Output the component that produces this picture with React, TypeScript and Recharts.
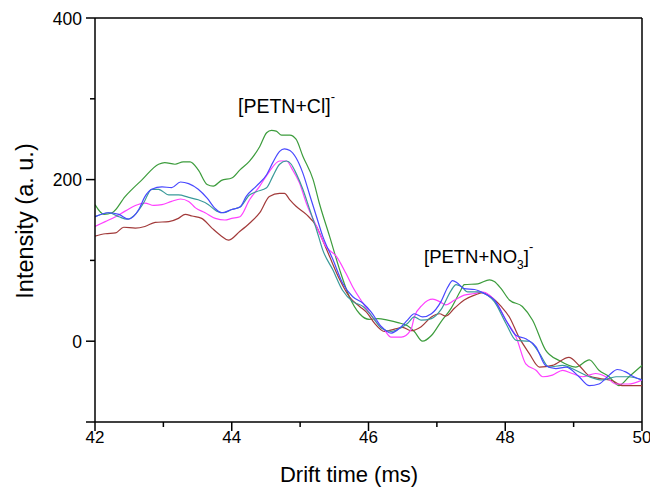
import { LineChart, Line, XAxis, YAxis, ReferenceLine } from 'recharts';

// drift time (ms) / intensity (a. u.), one pair of arrays per trace
const greenT = [42.0, 42.13, 42.25, 42.44, 42.69, 42.93, 43.02, 43.17, 43.29, 43.39, 43.51, 43.64, 43.73, 43.85, 44.0, 44.12, 44.26, 44.41, 44.51, 44.58, 44.65, 44.73, 44.85, 44.94, 45.04, 45.19, 45.28, 45.43, 45.58, 45.72, 45.87, 46.01, 46.14, 46.28, 46.43, 46.57, 46.67, 46.79, 46.92, 47.06, 47.21, 47.35, 47.4, 47.6, 47.77, 47.84, 47.94, 48.06, 48.25, 48.4, 48.59, 48.79, 49.03, 49.23, 49.37, 49.52, 49.66, 49.81, 50.0];
const greenV = [169, 157, 159, 179, 200, 219, 221, 219, 222, 222, 212, 194, 192, 199, 202, 212, 223, 241, 258, 261, 260, 255, 255, 250, 229, 200, 171, 130, 88, 55, 34, 27, 28, 26, 23, 19, 12, 0, 7, 24, 41, 63, 70, 71, 76, 74, 65, 51, 43, 26, -11, -24, -32, -23, -36, -44, -55, -44, -30];

const blueT = [42.0, 42.2, 42.35, 42.49, 42.64, 42.73, 42.83, 42.98, 43.12, 43.25, 43.37, 43.51, 43.64, 43.76, 43.85, 44.0, 44.12, 44.21, 44.36, 44.51, 44.6, 44.7, 44.77, 44.85, 44.94, 45.04, 45.14, 45.24, 45.33, 45.48, 45.62, 45.77, 45.92, 46.04, 46.19, 46.33, 46.48, 46.57, 46.67, 46.79, 46.92, 47.06, 47.16, 47.23, 47.3, 47.4, 47.55, 47.69, 47.84, 48.01, 48.16, 48.3, 48.45, 48.59, 48.74, 48.89, 49.08, 49.23, 49.37, 49.52, 49.64, 49.76, 49.88, 50.0];
const blueV = [154, 159, 157, 151, 163, 179, 188, 191, 190, 197, 195, 188, 177, 164, 159, 163, 166, 179, 192, 206, 221, 235, 238, 236, 227, 208, 181, 154, 130, 101, 72, 55, 47, 36, 18, 10, 18, 26, 34, 30, 34, 49, 67, 75, 72, 65, 64, 59, 51, 26, 7, 3, -7, -30, -34, -32, -44, -55, -53, -42, -35, -38, -44, -48];

const tealT = [42.0, 42.2, 42.35, 42.47, 42.59, 42.71, 42.83, 42.93, 43.08, 43.22, 43.37, 43.51, 43.66, 43.78, 43.88, 44.0, 44.12, 44.26, 44.36, 44.51, 44.6, 44.7, 44.8, 44.87, 44.94, 45.04, 45.14, 45.24, 45.33, 45.48, 45.62, 45.77, 45.92, 46.04, 46.19, 46.33, 46.48, 46.57, 46.67, 46.77, 46.92, 47.06, 47.21, 47.28, 47.35, 47.45, 47.6, 47.74, 47.84, 48.01, 48.16, 48.35, 48.5, 48.64, 48.84, 49.03, 49.23, 49.42, 49.62, 49.8, 50.0];
const tealV = [154, 159, 154, 151, 157, 171, 188, 188, 181, 181, 178, 175, 169, 161, 159, 163, 166, 181, 185, 190, 204, 219, 223, 219, 208, 188, 163, 138, 113, 88, 63, 49, 43, 32, 16, 12, 17, 22, 30, 26, 28, 39, 63, 70, 68, 61, 61, 57, 49, 22, 1, 0, -15, -32, -30, -36, -44, -48, -44, -44, -48];

const magentaT = [42.0, 42.15, 42.3, 42.44, 42.59, 42.73, 42.86, 42.98, 43.12, 43.25, 43.37, 43.47, 43.61, 43.76, 43.9, 44.0, 44.12, 44.26, 44.41, 44.55, 44.7, 44.8, 44.89, 44.99, 45.09, 45.24, 45.38, 45.53, 45.67, 45.77, 45.92, 46.09, 46.23, 46.33, 46.48, 46.62, 46.67, 46.79, 46.94, 47.04, 47.13, 47.26, 47.4, 47.55, 47.65, 47.77, 47.89, 48.01, 48.16, 48.3, 48.45, 48.55, 48.69, 48.84, 48.98, 49.13, 49.32, 49.47, 49.62, 49.8, 50.0];
const magentaV = [142, 148, 154, 161, 168, 171, 168, 169, 173, 176, 173, 165, 159, 152, 150, 152, 154, 175, 192, 210, 223, 223, 212, 196, 171, 142, 117, 105, 84, 67, 47, 26, 14, 5, 5, 14, 30, 45, 52, 49, 45, 51, 57, 59, 61, 57, 45, 26, 5, -28, -36, -44, -42, -36, -40, -44, -40, -44, -53, -53, -48];

const brownT = [42.0, 42.15, 42.3, 42.42, 42.59, 42.73, 42.88, 43.08, 43.22, 43.32, 43.42, 43.56, 43.71, 43.85, 43.95, 44.12, 44.26, 44.41, 44.55, 44.7, 44.77, 44.85, 44.94, 45.09, 45.24, 45.33, 45.43, 45.58, 45.72, 45.87, 45.97, 46.09, 46.23, 46.38, 46.5, 46.62, 46.77, 46.92, 47.04, 47.13, 47.26, 47.4, 47.55, 47.67, 47.79, 47.94, 48.06, 48.2, 48.35, 48.5, 48.69, 48.93, 49.08, 49.23, 49.37, 49.57, 49.71, 50.0];
const brownV = [130, 133, 134, 141, 140, 142, 147, 148, 152, 157, 155, 152, 140, 130, 125, 136, 146, 159, 179, 183, 183, 175, 167, 157, 142, 125, 105, 76, 55, 43, 36, 22, 12, 15, 17, 13, 18, 30, 34, 31, 41, 51, 57, 60, 55, 43, 30, 5, -15, -32, -30, -20, -30, -43, -46, -49, -55, -55];

const xTicks = [42, 43, 44, 45, 46, 47, 48, 49, 50];
const yTicks = [-100, 0, 100, 200, 300, 400];

const zip = (t: number[], v: number[]) => t.map((x, i) => ({ t: x, v: v[i] }));

const series = [
  { name: 'green', color: '#3c9c3c', data: zip(greenT, greenV) },
  { name: 'brown', color: '#a23a3a', data: zip(brownT, brownV) },
  { name: 'magenta', color: '#ff40ff', data: zip(magentaT, magentaV) },
  { name: 'teal', color: '#3a9a9a', data: zip(tealT, tealV) },
  { name: 'blue', color: '#4848ff', data: zip(blueT, blueV) },
];

const W = 650;
const H = 488;
const LEFT = 95;
const BOTTOM = 422;
const FONT = '"Liberation Sans", Arial, sans-serif';

function XTick({ x, payload }: any) {
  const major = payload.value % 2 === 0;
  return (
    <g>
      <line x1={x} x2={x} y1={BOTTOM} y2={BOTTOM + (major ? 9 : 5)} stroke="#000" strokeWidth={1.5} />
      {major && (
        <text x={x} y={443} textAnchor="middle" fontSize={17} fontFamily={FONT} fill="#000">
          {payload.value}
        </text>
      )}
    </g>
  );
}

function YTick({ y, payload }: any) {
  const major = payload.value % 200 === 0;
  const labeled = payload.value >= 0 && major;
  return (
    <g>
      <line x1={LEFT} x2={LEFT - (major || payload.value === -100 ? 9 : 5)} y1={y} y2={y} stroke="#000" strokeWidth={1.5} />
      {labeled && (
        <text x={82} y={y + 6.5} textAnchor="end" fontSize={17.5} fontFamily={FONT} fill="#000">
          {payload.value}
        </text>
      )}
    </g>
  );
}

export default function App() {
  return (
    <div style={{ position: 'absolute', left: 0, top: 0, width: W, height: H, background: '#fff' }}>
      <LineChart width={W} height={H} margin={{ top: 18, right: 8, bottom: 0, left: 0 }}>
        <XAxis
          type="number"
          dataKey="t"
          domain={[42, 50]}
          ticks={xTicks}
          allowDataOverflow
          height={66}
          tickLine={false}
          tick={<XTick />}
          axisLine={{ stroke: '#000', strokeWidth: 1.5 }}
        />
        <YAxis
          type="number"
          domain={[-100, 400]}
          ticks={yTicks}
          allowDataOverflow
          width={95}
          tickLine={false}
          tick={<YTick />}
          axisLine={{ stroke: '#000', strokeWidth: 1.5 }}
        />
        <ReferenceLine y={400} stroke="#000" strokeWidth={1.5} />
        <ReferenceLine x={50} stroke="#000" strokeWidth={1.5} />
        {series.map((s) => (
          <Line
            key={s.name}
            data={s.data}
            dataKey="v"
            type="monotone"
            stroke={s.color}
            strokeWidth={1.2}
            dot={false}
            activeDot={false}
            isAnimationActive={false}
          />
        ))}
      </LineChart>
      <svg width={W} height={H} style={{ position: 'absolute', left: 0, top: 0, pointerEvents: 'none' }}>
        <text x={238} y={113} fontSize={19.5} fontFamily={FONT} fill="#000">
          [PETN+Cl]
          <tspan dy={-12} fontSize={13}>-</tspan>
        </text>
        <text x={424} y={263} fontSize={18.5} fontFamily={FONT} fill="#000">
          [PETN+NO
          <tspan dy={6} fontSize={12}>3</tspan>
          <tspan dy={-6}>]</tspan>
          <tspan dy={-12} fontSize={13}>-</tspan>
        </text>
        <text x={349} y={482} textAnchor="middle" fontSize={22} fontFamily={FONT} fill="#000">
          Drift time (ms)
        </text>
        <text
          x={0}
          y={0}
          transform="translate(33,221) rotate(-90)"
          textAnchor="middle"
          fontSize={23.5}
          fontFamily={FONT}
          fill="#000"
        >
          Intensity (a. u.)
        </text>
      </svg>
    </div>
  );
}
